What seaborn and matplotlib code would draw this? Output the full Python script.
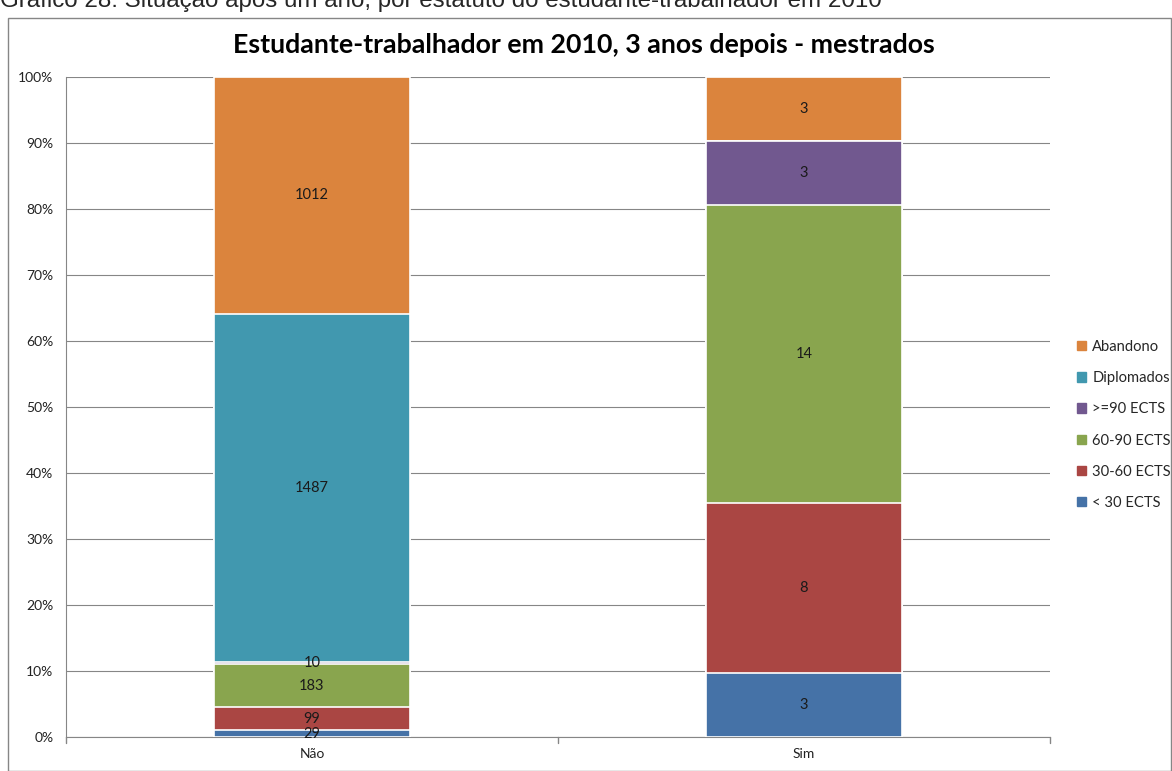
import matplotlib
matplotlib.use("Agg")
import matplotlib.pyplot as plt
import seaborn as sns
import numpy as np
import pandas as pd
from matplotlib.patches import Rectangle

categories = ["Não", "Sim"]
series_names = ["< 30 ECTS", "30-60 ECTS", "60-90 ECTS", ">=90 ECTS", "Diplomados", "Abandono"]
lt30 = [29, 3]
s30_60 = [99, 8]
s60_90 = [183, 14]
ge90 = [10, 3]
diplomados = [1487, 0]
abandono = [1012, 3]
colors = ["#4572A7", "#AA4643", "#89A54E", "#71588F", "#4198AF", "#DB843D"]
yticks_labels = ["0%", "10%", "20%", "30%", "40%", "50%", "60%", "70%", "80%", "90%", "100%"]

sns.set_style("white")
plt.rcParams['font.family'] = ['Lato', 'DejaVu Sans']

values = np.array([lt30, s30_60, s60_90, ge90, diplomados, abandono], dtype=float)
totals = values.sum(axis=0)
pct = values / totals * 100
cum = np.cumsum(pct, axis=0)

fig = plt.figure(figsize=(11.72, 7.71), dpi=100)
ax = fig.add_axes([66/1172, 34/771, (1050-66)/1172, (737-77)/771])

# draw from top to bottom so lower segments overlay
for i in range(len(series_names) - 1, -1, -1):
    df = pd.DataFrame({"cat": categories, "val": cum[i]})
    sns.barplot(data=df, x="cat", y="val", color=colors[i], width=0.4,
                edgecolor="white", linewidth=1.2, saturation=1, ax=ax, zorder=3)

# labels
for j in range(len(categories)):
    bottom = 0
    for i in range(len(series_names)):
        if values[i, j] > 0:
            mid = bottom + pct[i, j] / 2
            ax.text(j, mid, f"{int(values[i, j])}", ha="center", va="center",
                    fontsize=10.5, color="#1a1a1a", zorder=5)
        bottom += pct[i, j]

ax.set_ylim(0, 100)
ax.set_xlim(-0.5, 1.5)
ax.set_yticks(np.arange(0, 101, 10))
ax.set_yticklabels(yticks_labels, fontsize=10, color="#222222")
ax.set_xlabel("")
ax.set_ylabel("")
ax.tick_params(axis="x", length=0, labelsize=10, colors="#222222", pad=8)
ax.tick_params(axis="y", length=5, color="#868686", width=1, direction="out", pad=4)
ax.yaxis.grid(True, color="#868686", linewidth=0.8, zorder=0)
ax.set_axisbelow(True)
for s in ["top", "right"]:
    ax.spines[s].set_visible(False)
ax.spines["left"].set_color("#868686")
ax.spines["bottom"].set_color("#868686")
# category boundary ticks on x axis
for xb in [-0.5, 0.5, 1.5]:
    ax.plot([xb, xb], [0, -0.9], color="#868686", linewidth=1, clip_on=False, zorder=4)

fig.text(584/1172, 1 - 45/771, "Estudante-trabalhador em 2010, 3 anos depois - mestrados",
         ha="center", va="center", fontsize=19.3, fontweight="bold", color="black")

handles = [Rectangle((0, 0), 1, 1, color=colors[i]) for i in range(len(series_names) - 1, -1, -1)]
labels = [series_names[i] for i in range(len(series_names) - 1, -1, -1)]
fig.legend(handles, labels, loc="upper left", bbox_to_anchor=(1071/1172, 1 - 334/771),
           frameon=False, fontsize=10.6, handlelength=0.6, handleheight=0.6,
           handletextpad=0.45, labelspacing=1.17, borderaxespad=0)

# outer chart border
fig.patches.append(Rectangle((8/1172, 0), (1171-8)/1172, (771-18)/771,
                             transform=fig.transFigure, fill=False,
                             edgecolor="#868686", linewidth=1))

fig.text(0.0, 1 - 7/771, "Gráfico 28: Situação após um ano, por estatuto do estudante-trabalhador em 2010",
         ha="left", va="baseline", fontsize=17.4, family=["Liberation Sans", "DejaVu Sans"])

fig.savefig("out.png", dpi=100)
